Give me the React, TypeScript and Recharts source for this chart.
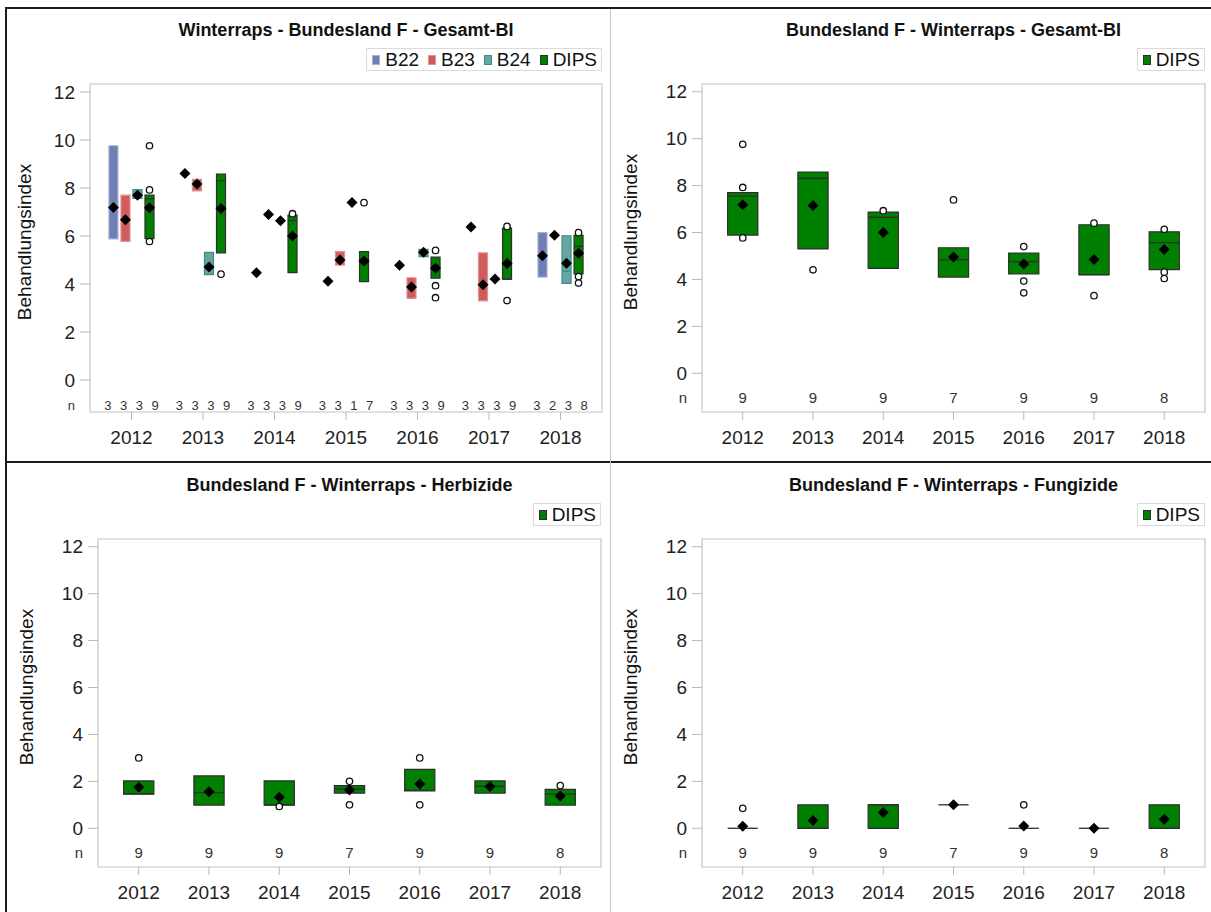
import React from "react";
import {
  ComposedChart,
  XAxis,
  YAxis,
  Scatter,
  ReferenceArea,
  ReferenceLine,
} from "recharts";

const FONT = "'Liberation Sans', Arial, sans-serif";

const years = ["2012", "2013", "2014", "2015", "2016", "2017", "2018"];
const yTicks = [0, 2, 4, 6, 8, 10, 12];
const nRow = -1.05;

// Gesamt-BI, per group (box low/high = quartiles, n = sample count)
const b22Low = [5.88, null, null, null, null, null, 4.29];
const b22High = [9.76, null, null, null, null, null, 6.14];
const b22Median = [null, null, null, null, null, null, null];
const b22Mean = [7.19, 8.6, 4.47, 4.11, 4.78, 6.38, 5.18];
const b22N = [3, 3, 3, 3, 3, 3, 3];

const b23Low = [5.78, 7.88, null, 4.79, 3.4, 3.3, null];
const b23High = [7.7, 8.36, null, 5.35, 4.26, 5.3, null];
const b23Median = [null, null, null, null, null, null, null];
const b23Mean = [6.68, 8.17, 6.9, 5.0, 3.88, 3.97, 6.03];
const b23N = [3, 3, 3, 3, 3, 3, 2];

const b24Low = [7.57, 4.39, null, null, 5.14, null, 4.03];
const b24High = [7.93, 5.32, null, null, 5.44, null, 6.01];
const b24Median = [null, null, null, null, null, null, 4.53];
const b24Mean = [7.7, 4.71, 6.64, 7.4, 5.32, 4.21, 4.86];
const b24N = [3, 3, 3, 1, 3, 3, 3];

const dipsLow = [5.89, 5.3, 4.47, 4.1, 4.24, 4.2, 4.42];
const dipsHigh = [7.7, 8.58, 6.87, 5.35, 5.12, 6.33, 6.03];
const dipsMedian = [7.55, 8.31, 6.65, 4.84, 4.76, 4.2, 5.57];
const dipsMean = [7.18, 7.15, 6.0, 4.96, 4.66, 4.85, 5.28];
const dipsOutliers = [[9.76, 7.92, 5.77], [4.41], [6.93], [7.39], [5.4, 3.93, 3.43], [6.4, 3.31], [6.14, 4.31, 4.04]];
const dipsN = [9, 9, 9, 7, 9, 9, 8];

// Herbizide (DIPS)
const herbLow = [1.46, 0.99, 0.99, 1.5, 1.59, 1.5, 0.99];
const herbHigh = [2.02, 2.23, 2.02, 1.82, 2.51, 2.02, 1.66];
const herbMedian = [1.47, 1.52, 1.0, 1.67, 1.62, 1.79, 1.46];
const herbMean = [1.75, 1.56, 1.32, 1.63, 1.89, 1.78, 1.38];
const herbOutliers = [[3.0], [], [0.93], [2.0, 1.0], [3.0, 1.0], [], [1.82]];

// Fungizide (DIPS)
const fungLow = [0, 0, 0, 1, 0, 0, 0];
const fungHigh = [0, 1, 1, 1, 0, 0, 1];
const fungMedian = [0, 0, 1, 1, 0, 0, 0];
const fungMean = [0.09, 0.33, 0.67, 1.0, 0.1, 0.0, 0.38];
const fungOutliers = [[0.85], [], [], [], [1.0], [], []];

const none: number[][] = [[], [], [], [], [], [], []];

type Series = {
  name: string;
  fill: string;
  stroke: string;
  offset: number;
  nOffset: number;
  half: number;
  low: (number | null)[];
  high: (number | null)[];
  median: (number | null)[];
  mean: number[];
  outliers: number[][];
  n: number[];
};

const COLORS = {
  B22: { fill: "#6F7EB3", stroke: "#a6afd6" },
  B23: { fill: "#D05B5B", stroke: "#e39292" },
  B24: { fill: "#66A5A0", stroke: "#3d8c86" },
  DIPS: { fill: "#008000", stroke: "#2e2e2e" },
};

const groupSeries: Series[] = [
  { name: "B22", ...COLORS.B22, offset: -0.252, nOffset: -0.33, half: 0.063, low: b22Low, high: b22High, median: b22Median, mean: b22Mean, outliers: none, n: b22N },
  { name: "B23", ...COLORS.B23, offset: -0.084, nOffset: -0.11, half: 0.063, low: b23Low, high: b23High, median: b23Median, mean: b23Mean, outliers: none, n: b23N },
  { name: "B24", ...COLORS.B24, offset: 0.084, nOffset: 0.11, half: 0.063, low: b24Low, high: b24High, median: b24Median, mean: b24Mean, outliers: none, n: b24N },
  { name: "DIPS", ...COLORS.DIPS, offset: 0.252, nOffset: 0.33, half: 0.063, low: dipsLow, high: dipsHigh, median: dipsMedian, mean: dipsMean, outliers: dipsOutliers, n: dipsN },
];

const dipsOnly = (low, high, median, mean, outliers): Series[] => [
  { name: "DIPS", ...COLORS.DIPS, offset: 0, nOffset: 0, half: 0.215, low, high, median, mean, outliers, n: dipsN },
];

const Diamond = (props: any) => {
  const { cx, cy } = props;
  return <path d={`M${cx},${cy - 5.5}L${cx + 5.5},${cy}L${cx},${cy + 5.5}L${cx - 5.5},${cy}Z`} fill="#000" />;
};

const Circle = (props: any) => (
  <circle cx={props.cx} cy={props.cy} r={3.2} fill="#fff" stroke="#111" strokeWidth={1.3} />
);

const makeLabel = (size: number) => (props: any) => (
  <text x={props.cx} y={props.cy} dy="0.35em" textAnchor="middle" fontSize={size} fontFamily={FONT} fill="#333">
    {props.payload.label}
  </text>
);

const TICK_SIZE = 10;
const TICK_MARGIN = 5;

const makeYTick = (nSize: number) => (props: any) => {
  const { x, y, payload } = props;
  if (payload.value === nRow) {
    return (
      <text x={x} y={y} dy="0.35em" textAnchor="end" fontSize={nSize} fontFamily={FONT} fill="#333">
        n
      </text>
    );
  }
  return (
    <g>
      <line x1={x + TICK_MARGIN} x2={x + TICK_MARGIN + TICK_SIZE} y1={y} y2={y} stroke="#b8b8b8" />
      <text x={x} y={y} dy="0.35em" textAnchor="end" fontSize={19} fontFamily={FONT} fill="#222">
        {payload.value}
      </text>
    </g>
  );
};

type PanelProps = {
  left: number;
  top: number;
  width: number;
  height: number;
  plotTop: number;
  plotLeft: number;
  plotRight: number;
  axisHeight: number;
  yDomain: [number, number];
  title: string;
  series: Series[];
  nSize: number;
  yLabelX: number;
  yLabelY: number;
};

const Panel = ({ left, top, width, height, plotTop, plotLeft, plotRight, axisHeight, yDomain, title, series, nSize, yLabelX, yLabelY }: PanelProps) => {
  const xDomain: [number, number] = [-0.58, 6.58];
  const meanPts: any[] = [];
  const outPts: any[] = [];
  const nPts: any[] = [];
  series.forEach((s) => {
    years.forEach((_, i) => {
      if (s.mean[i] != null) meanPts.push({ x: i + s.offset, y: s.mean[i] });
      s.outliers[i].forEach((v) => outPts.push({ x: i + s.offset, y: v }));
      nPts.push({ x: i + s.nOffset, y: nRow, label: String(s.n[i]) });
    });
  });

  return (
    <div style={{ position: "absolute", left, top, width, height }}>
      <ComposedChart width={width} height={height} margin={{ top: plotTop, right: plotRight, bottom: 0, left: 0 }}>
        <XAxis
          type="number"
          dataKey="x"
          domain={xDomain}
          ticks={[0, 1, 2, 3, 4, 5, 6]}
          tickFormatter={(v) => years[v]}
          allowDataOverflow
          height={axisHeight}
          axisLine={false}
          tickLine={{ stroke: "#b8b8b8" }}
          tickSize={8}
          tickMargin={11}
          tick={{ fill: "#222", fontSize: 19, fontFamily: FONT }}
        />
        <YAxis
          type="number"
          dataKey="y"
          domain={yDomain}
          ticks={[nRow, ...yTicks]}
          allowDataOverflow
          width={plotLeft}
          axisLine={false}
          tickLine={false}
          tickSize={TICK_SIZE}
          tickMargin={TICK_MARGIN}
          tick={makeYTick(nSize)}
        />
        <ReferenceArea x1={xDomain[0]} x2={xDomain[1]} y1={yDomain[0]} y2={yDomain[1]} fill="none" fillOpacity={0} stroke="#c4c4c4" strokeWidth={1.2} />
        {series.flatMap((s) =>
          years.map((_, i) =>
            s.low[i] != null && s.high[i] != null && s.high[i] !== s.low[i] ? (
              <ReferenceArea
                key={`${s.name}-box-${i}`}
                x1={i + s.offset - s.half}
                x2={i + s.offset + s.half}
                y1={s.low[i]}
                y2={s.high[i]}
                fill={s.fill}
                fillOpacity={1}
                stroke={s.stroke}
                strokeWidth={1.2}
              />
            ) : null
          )
        )}
        {series.flatMap((s) =>
          years.map((_, i) =>
            s.median[i] != null ? (
              <ReferenceLine
                key={`${s.name}-med-${i}`}
                segment={[
                  { x: i + s.offset - s.half, y: s.median[i] },
                  { x: i + s.offset + s.half, y: s.median[i] },
                ]}
                stroke={s.stroke}
                strokeWidth={1.3}
              />
            ) : null
          )
        )}
        <Scatter data={outPts} shape={Circle} isAnimationActive={false} />
        <Scatter data={meanPts} shape={Diamond} isAnimationActive={false} />
        <Scatter data={nPts} shape={makeLabel(nSize)} isAnimationActive={false} />
      </ComposedChart>
      <div
        style={{
          position: "absolute",
          left: plotLeft,
          width: width - plotLeft - plotRight,
          top: plotTop - 65,
          lineHeight: "22px",
          textAlign: "center",
          fontFamily: FONT,
          fontWeight: "bold",
          fontSize: 18,
          color: "#111",
        }}
      >
        {title}
      </div>
      <div
        style={{
          position: "absolute",
          right: plotRight,
          top: plotTop - 36,
          height: 21,
          border: "1px solid #dadada",
          display: "flex",
          alignItems: "center",
          padding: "0 4px 0 5px",
          fontFamily: FONT,
          fontSize: 19,
          color: "#111",
        }}
      >
        {series.map((s) => (
          <span key={s.name} style={{ display: "flex", alignItems: "center", marginLeft: s === series[0] ? 0 : 9 }}>
            <span style={{ display: "inline-block", width: 6, height: 8, background: s.fill, border: `1px solid ${s.stroke}`, marginRight: 5 }} />
            {s.name}
          </span>
        ))}
      </div>
      <div
        style={{
          position: "absolute",
          left: yLabelX,
          top: yLabelY,
          transform: "translate(-50%, -50%) rotate(-90deg)",
          whiteSpace: "nowrap",
          fontFamily: FONT,
          fontSize: 19,
          color: "#111",
        }}
      >
        Behandlungsindex
      </div>
    </div>
  );
};

export default function App() {
  return (
    <div style={{ position: "absolute", left: 0, top: 0, width: 1211, height: 912, background: "#fff", overflow: "hidden" }}>
      <Panel left={0} top={0} width={610} height={460} plotTop={84} plotLeft={90} plotRight={8} axisHeight={48}
        yDomain={[-1.333, 12.333]} title="Winterraps - Bundesland F - Gesamt-BI" series={groupSeries} nSize={13} yLabelX={25} yLabelY={242} />
      <Panel left={610} top={0} width={601} height={460} plotTop={84} plotLeft={92} plotRight={6} axisHeight={48}
        yDomain={[-1.65, 12.33]} title="Bundesland F - Winterraps - Gesamt-BI" series={dipsOnly(dipsLow, dipsHigh, dipsMedian, dipsMean, dipsOutliers)} nSize={15} yLabelX={21} yLabelY={232} />
      <Panel left={0} top={460} width={610} height={452} plotTop={79} plotLeft={98} plotRight={9} axisHeight={45}
        yDomain={[-1.65, 12.33]} title="Bundesland F - Winterraps - Herbizide" series={dipsOnly(herbLow, herbHigh, herbMedian, herbMean, herbOutliers)} nSize={15} yLabelX={27} yLabelY={227} />
      <Panel left={610} top={460} width={601} height={452} plotTop={79} plotLeft={92} plotRight={6} axisHeight={45}
        yDomain={[-1.65, 12.33]} title="Bundesland F - Winterraps - Fungizide" series={dipsOnly(fungLow, fungHigh, fungMedian, fungMean, fungOutliers)} nSize={15} yLabelX={21} yLabelY={227} />
      <div style={{ position: "absolute", left: 5, top: 7, width: 1206, height: 2, background: "#1c1c1c" }} />
      <div style={{ position: "absolute", left: 5, top: 461, width: 1206, height: 2, background: "#1c1c1c" }} />
      <div style={{ position: "absolute", left: 5, top: 7, width: 1.5, height: 905, background: "#1c1c1c" }} />
      <div style={{ position: "absolute", left: 610, top: 9, width: 1, height: 903, background: "#c8c8c8" }} />
    </div>
  );
}
